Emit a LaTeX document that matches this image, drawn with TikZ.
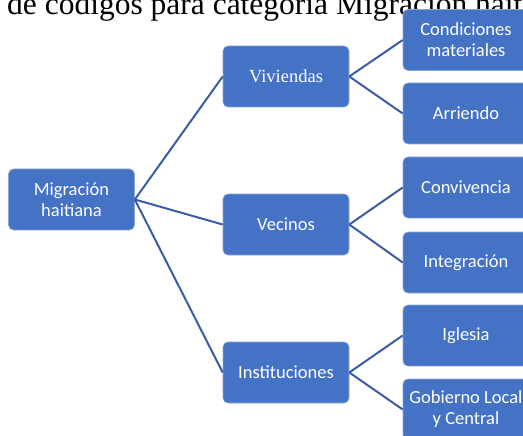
\documentclass[tikz,border=0pt]{standalone}
\usepackage{fontspec}
\setmainfont{Liberation Serif}
\newfontfamily\carl{Carlito}
\definecolor{boxfill}{RGB}{68,114,196}
\definecolor{linecol}{RGB}{59,93,166}
\definecolor{boxedge}{RGB}{140,166,214}
\tikzset{
  boxnode/.style={draw=boxedge, line width=0.6pt, fill=boxfill, rounded corners=5pt,
    minimum width=126pt, minimum height=61pt, inner sep=2pt, align=center,
    text=white, font=\carl\fontsize{18.5}{21}\selectfont},
  serifbox/.style={boxnode, font=\fontsize{18.5}{21}\selectfont},
  conn/.style={draw=linecol, line width=2pt}
}
\begin{document}
\begin{tikzpicture}[x=1pt,y=-1pt]
\useasboundingbox (0,0) rectangle (523,436);
\clip (0,0) rectangle (523,436);
\node[anchor=base west, inner sep=0pt, font=\fontsize{31.5}{33}\selectfont] (title) at (7,15) {de códigos para categoría Migración haitiana};
\node[boxnode] (mig) at (71.5,199.5) {Migración\\haitiana};
\node[serifbox] (viv) at (286,76.5) {Viviendas};
\node[boxnode] (vec) at (286,224.5) {Vecinos};
\node[boxnode] (ins) at (286,372.5) {Instituciones};
\node[boxnode] (con) at (466,40) {Condiciones\\materiales};
\node[boxnode] (arr) at (466,113.5) {Arriendo};
\node[boxnode] (conv) at (466,187.5) {Convivencia};
\node[boxnode] (int) at (466,262.5) {Integración};
\node[boxnode] (igl) at (466,335.5) {Iglesia};
\node[boxnode] (gob) at (466,409.5) {Gobierno Local\\y Central};
\foreach \a/\b in {mig/viv, mig/vec, mig/ins, viv/con, viv/arr, vec/conv, vec/int, ins/igl, ins/gob}
  \draw[conn] (\a.east) -- (\b.west);
\end{tikzpicture}
\end{document}
